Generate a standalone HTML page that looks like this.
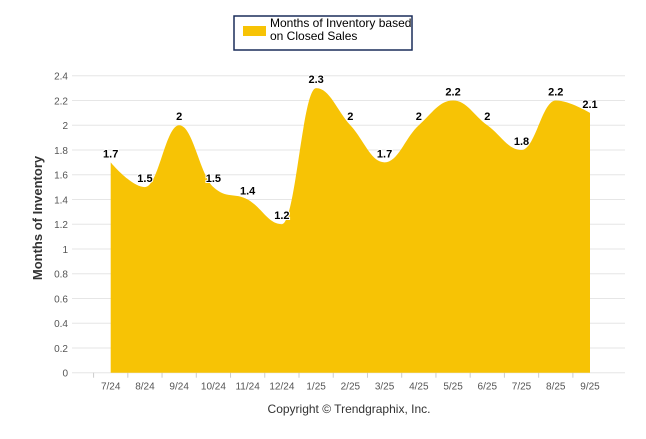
<!DOCTYPE html>
<html><head><meta charset="utf-8"><style>
body{margin:0;background:#fff;font-family:"Liberation Sans",Arial,sans-serif}
svg text{font-family:"Liberation Sans",Arial,sans-serif}
</style></head><body>
<svg id="c" width="646" height="434" xmlns="http://www.w3.org/2000/svg">
<g>
<rect x="234" y="16" width="178" height="34" fill="#fff" stroke="#1a2d5a" stroke-width="1.5"/>
<rect x="243" y="26" width="23" height="10" fill="#f7c305"/>
<text x="270" y="27" font-size="12" fill="#000">Months of Inventory based</text>
<text x="270" y="40" font-size="12" fill="#000">on Closed Sales</text>
</g>
<text transform="translate(42,218) rotate(-90)" text-anchor="middle" font-size="13" font-weight="bold" fill="#333">Months of Inventory</text>
<text x="349" y="413" text-anchor="middle" font-size="12" fill="#333">Copyright © Trendgraphix, Inc.</text>
<g id="grid"></g><g id="area"></g><g id="labels"></g>
</svg>
<script>
const categories=["7/24","8/24","9/24","10/24","11/24","12/24","1/25","2/25","3/25","4/25","5/25","6/25","7/25","8/25","9/25"];
const values=[1.7,1.5,2,1.5,1.4,1.2,2.3,2,1.7,2,2.2,2,1.8,2.2,2.1];
const yTicks=[0,0.2,0.4,0.6,0.8,1,1.2,1.4,1.6,1.8,2,2.2,2.4];
const NS="http://www.w3.org/2000/svg";
const L=72,R=625,T=75.7,B=372.7,yMax=2.4;
const x0=110.7,step=(590-110.7)/14;
const xs=i=>x0+i*step, ys=v=>B-(v/yMax)*(B-T);
function mk(tag,a,p){const e=document.createElementNS(NS,tag);for(const k in a)e.setAttribute(k,a[k]);p.appendChild(e);return e;}
const g=document.getElementById('grid');
yTicks.forEach(t=>{
 const l=mk('line',{x1:L,x2:R,y1:ys(t),y2:ys(t),stroke:'#e6e6e6','stroke-width':1},g);
 
 
 const tx=mk('text',{x:L-4,y:ys(t)+4,'text-anchor':'end','font-size':10,fill:'#555'},g);
 tx.textContent=String(t);
 
 
});
categories.forEach((c,i)=>{
 const tk=mk('line',{x1:xs(i)-step/2,x2:xs(i)-step/2,y1:B,y2:B+5,stroke:'#ccc'},g);
 
 
 const tx=mk('text',{x:xs(i),y:B+17,'text-anchor':'middle','font-size':10,fill:'#555'},g);
 tx.textContent=c;
 
 
});
// Highcharts-like spline
const pts=values.map((v,i)=>[xs(i),ys(v)]);
let d=`M${pts[0][0]},${B}L${pts[0][0]},${pts[0][1]}`;
const sm=1.5;
function ctrl(i){
 const p=pts[i],a=pts[i-1],n=pts[i+1];
 if(!a||!n)return [p,p];
 let lx=(sm*p[0]+a[0])/(sm+1),ly=(sm*p[1]+a[1])/(sm+1);
 let rx=(sm*p[0]+n[0])/(sm+1),ry=(sm*p[1]+n[1])/(sm+1);
 let corr=0;
 if(rx!==lx)corr=((ry-ly)*(rx-p[0]))/(rx-lx)+p[1]-ry;
 ly+=corr;ry+=corr;
 if(ly>a[1]&&ly>p[1]){ly=Math.max(a[1],p[1]);ry=2*p[1]-ly;}
 else if(ly<a[1]&&ly<p[1]){ly=Math.min(a[1],p[1]);ry=2*p[1]-ly;}
 if(ry>n[1]&&ry>p[1]){ry=Math.max(n[1],p[1]);ly=2*p[1]-ry;}
 else if(ry<n[1]&&ry<p[1]){ry=Math.min(n[1],p[1]);ly=2*p[1]-ry;}
 return [[lx,ly],[rx,ry]];
}
const cs=pts.map((_,i)=>ctrl(i));
for(let i=1;i<pts.length;i++){
 const c1=cs[i-1][1],c2=cs[i][0];
 d+=`C${c1[0]},${c1[1]} ${c2[0]},${c2[1]} ${pts[i][0]},${pts[i][1]}`;
}
d+=`L${pts[pts.length-1][0]},${B}Z`;
const ar=mk('path',{d:d,fill:'#f7c305'},document.getElementById('area'));


const lg=document.getElementById('labels');
values.forEach((v,i)=>{
 const tx=mk('text',{x:xs(i),y:ys(v)-5,'text-anchor':'middle','font-size':11,'font-weight':'bold',fill:'#000',stroke:'#fff','stroke-width':2,'paint-order':'stroke'},lg);
 tx.textContent=String(v);
 
 
});
</script>
</body></html>
